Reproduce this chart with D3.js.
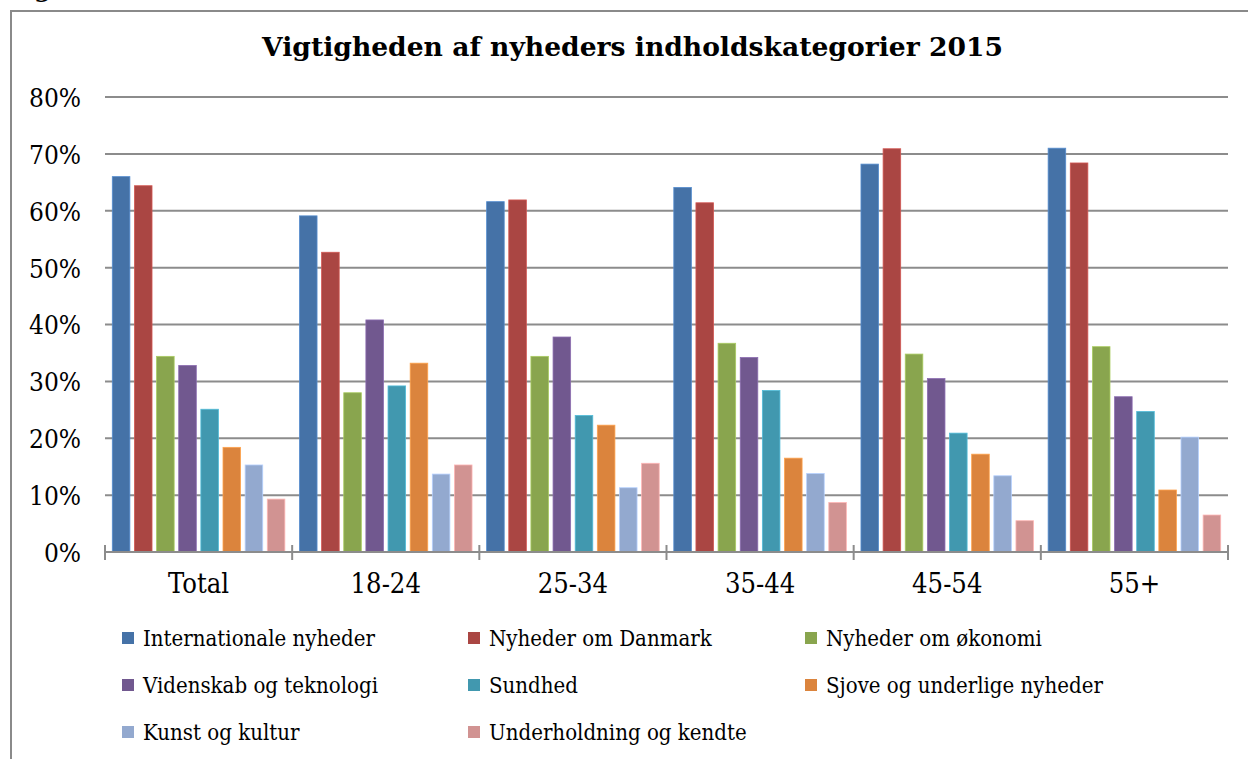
<!DOCTYPE html>
<html><head><meta charset="utf-8">
<script src="https://cdn.jsdelivr.net/npm/d3@7"></script>
<style>html,body{margin:0;padding:0;background:#fff;overflow:hidden}</style>
</head><body>
<svg id="c" width="1248" height="759"></svg>
<script>
const categories = ["Total","18-24","25-34","35-44","45-54","55+"];
const seriesNames = ["Internationale nyheder","Nyheder om Danmark","Nyheder om økonomi","Videnskab og teknologi","Sundhed","Sjove og underlige nyheder","Kunst og kultur","Underholdning og kendte"];
const colors = ["#4572A7","#AA4643","#89A54E","#71588F","#4198AF","#DB843D","#93A9CF","#D19392"];
const internationale = [66.0,59.1,61.6,64.1,68.2,71.0];
const danmark        = [64.4,52.7,61.9,61.4,70.9,68.4];
const oekonomi       = [34.4,28.0,34.4,36.7,34.8,36.1];
const videnskab      = [32.8,40.8,37.8,34.2,30.5,27.3];
const sundhed        = [25.1,29.2,24.0,28.4,20.9,24.7];
const sjove          = [18.4,33.2,22.3,16.5,17.2,10.9];
const kunst          = [15.3,13.7,11.3,13.8,13.4,20.2];
const underholdning  = [9.3,15.3,15.6,8.7,5.5,6.5];
const yTicks = [0,10,20,30,40,50,60,70,80];
const title = "Vigtigheden af nyheders indholdskategorier 2015";

const series = [internationale,danmark,oekonomi,videnskab,sundhed,sjove,kunst,underholdning];
const svg = d3.select("#c");
const serifC = "'DejaVu Serif Condensed', 'DejaVu Serif', serif";
const serif = "'DejaVu Serif', serif";

function styleText(sel, weight) {
  return sel.attr("font-family",serifC).attr("font-stretch","condensed").attr("font-weight",weight||"normal");
}
function styleTitle(sel) {
  return sel.attr("font-family",serif).attr("font-weight","bold");
}
// font size that makes a sample text reach a target width
function fit(sample, target, styler, weight, base) {
  const t = styler(svg.append("text"), weight).attr("font-size",base).text(sample);
  const w = t.node().getComputedTextLength();
  t.remove();
  return base*target/w;
}
const titleSize = fit(title, 741, styleTitle, "bold", 26);
const legendSize = fit("Internationale nyheder", 232, styleText, "normal", 22);
const yLabSize = fit("80%", 52, styleText, "normal", 22);
const xLabSize = fit("Total", 61, styleText, "normal", 22);

// frame
svg.append("rect").attr("x",11).attr("y",11).attr("width",1260).attr("height",780)
  .attr("fill","none").attr("stroke","#8a8a8a").attr("stroke-width",2);
// partially visible heading above frame
styleTitle(svg.append("text")).attr("x",8).attr("y",-3).attr("font-size",24).text("Figur");

const L=105, R=1228, T=97, B=552;
const y = d3.scaleLinear().domain([0,80]).range([B,T]);
const x0 = d3.scaleBand().domain(categories).range([L,R]).padding(0);
const gw = x0.bandwidth();
const x1 = d3.scaleBand().domain(d3.range(series.length)).range([7.3, gw-7.3]).paddingInner(0.206).paddingOuter(0);

// grid
svg.append("g").selectAll("line").data(yTicks.filter(d=>d>0)).join("line")
  .attr("x1",L).attr("x2",R).attr("y1",d=>y(d)).attr("y2",d=>y(d))
  .attr("stroke","#8c8c8c").attr("stroke-width",2);

// y axis labels
const yAxis = d3.axisLeft(y).tickValues(yTicks).tickFormat(d=>d+"%").tickSize(0).tickPadding(24);
const ya = svg.append("g").attr("transform",`translate(${L},0)`).call(yAxis);
ya.select(".domain").remove();
styleText(ya.selectAll("text")).attr("font-size",yLabSize).attr("fill","#000").attr("dy","0.36em");

// bars
const groups = svg.append("g").selectAll("g").data(categories).join("g")
  .attr("transform",d=>`translate(${x0(d)},0)`);
groups.selectAll("rect").data((c,ci)=>series.map((s,si)=>({si,v:s[ci]}))).join("rect")
  .attr("x",d=>x1(d.si)).attr("width",x1.bandwidth())
  .attr("y",d=>y(d.v)).attr("height",d=>B-y(d.v))
  .attr("fill",d=>colors[d.si])
  .attr("stroke",d=>d3.color(colors[d.si]).brighter(0.6)).attr("stroke-width",0.8);

// x axis
svg.append("line").attr("x1",L).attr("x2",R).attr("y1",B).attr("y2",B)
  .attr("stroke","#8c8c8c").attr("stroke-width",2);
const bounds = categories.map(c=>x0(c)).concat([R]);
svg.append("g").selectAll("line").data(bounds).join("line")
  .attr("x1",d=>d).attr("x2",d=>d).attr("y1",B-7).attr("y2",B+8)
  .attr("stroke","#8c8c8c").attr("stroke-width",2);
const xAxis = d3.axisBottom(x0).tickSize(0).tickPadding(0);
const xa = svg.append("g").attr("transform",`translate(0,${B})`).call(xAxis);
xa.select(".domain").remove();
styleText(xa.selectAll("text")).attr("font-size",xLabSize).attr("fill","#000").attr("dy",0).attr("y",41);

// title
styleTitle(svg.append("text")).attr("x",632.5).attr("y",56).attr("text-anchor","middle")
  .attr("font-size",titleSize).text(title);

// legend
const colX = [122,468,805];
const rowY = [646,693,740];
const lg = svg.append("g").selectAll("g").data(seriesNames).join("g")
  .attr("transform",(d,i)=>`translate(${colX[i%3]},${rowY[Math.floor(i/3)]})`);
lg.append("rect").attr("x",0).attr("y",-14).attr("width",12).attr("height",12).attr("fill",(d,i)=>colors[i]);
styleText(lg.append("text")).attr("x",21).attr("y",0).attr("font-size",legendSize).text(d=>d);
</script>
</body></html>
